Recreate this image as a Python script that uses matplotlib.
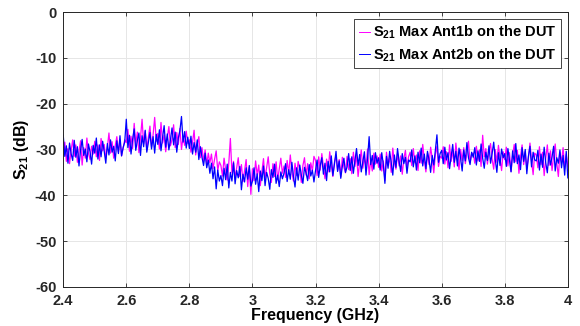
import numpy as np
import matplotlib
matplotlib.use('Agg')
import matplotlib.pyplot as plt

# frequency grid 2.4 .. 4.0 GHz, step 5 MHz
freq = np.linspace(2.4, 4.0, 321)

# S21 Max Ant1b on the DUT (dB)
s21_ant1b = [
    -31.2, -28.4, -32.6, -29.8, -33.1, -30.2, -27.9, -31.5, -29.0, -32.8, -30.4, -28.1, -33.4, -29.6, -31.9, -27.5, -30.8, -32.2, -29.3, -31.0,
    -28.2, -31.6, -29.0, -32.4, -27.6, -30.3, -28.9, -32.0, -29.5, -26.4, -30.8, -28.3, -31.9, -29.1, -27.2, -30.6, -28.0, -31.4, -29.7, -27.9,
    -28.5, -25.6, -30.4, -27.1, -29.8, -24.3, -28.9, -26.2, -30.7, -27.5, -23.4, -28.8, -26.0, -30.1, -27.3, -24.9, -29.4, -26.8, -23.0, -28.2,
    -26.5, -29.9, -24.1, -28.6, -26.9, -30.5, -27.4, -25.0, -29.2, -27.8, -24.6, -29.6, -26.3, -28.9, -25.4, -30.0, -27.2, -29.1, -26.0, -28.7,
    -27.9, -30.6, -28.4, -25.8, -31.2, -29.0, -27.2, -31.8, -29.6, -32.5, -30.1, -33.4, -30.8, -32.9, -31.0, -34.2, -32.1, -30.3, -34.6, -32.7,
    -33.5, -35.8, -31.9, -34.4, -36.7, -33.0, -27.6, -35.1, -32.6, -36.2, -34.0, -31.8, -35.9, -33.3, -37.0, -34.6, -32.2, -38.1, -33.9, -39.8,
    -34.2, -36.8, -32.5, -35.6, -33.4, -37.9, -34.8, -32.0, -36.3, -33.9, -31.6, -35.4, -37.2, -33.1, -35.9, -32.7, -36.6, -34.3, -31.9, -35.2,
    -33.6, -36.1, -32.4, -35.3, -31.2, -34.8, -36.9, -33.0, -35.7, -32.6, -34.4, -37.2, -33.5, -31.8, -35.6, -33.1, -36.4, -32.9, -34.7, -31.5,
    -32.4, -35.7, -31.6, -34.5, -30.9, -33.8, -36.4, -32.1, -34.9, -30.5, -33.5, -35.9, -32.8, -31.3, -34.6, -32.2, -36.0, -31.7, -33.9, -35.1,
    -31.5, -34.4, -32.0, -35.3, -30.6, -33.7, -31.2, -35.9, -32.8, -30.1, -34.1, -31.7, -33.9, -29.9, -35.5, -32.3, -34.7, -30.8, -33.2, -31.4,
    -33.9, -31.0, -34.7, -32.5, -36.8, -30.6, -33.4, -31.8, -35.0, -29.7, -32.9, -34.3, -30.9, -33.6, -31.4, -35.4, -32.1, -30.2, -34.0, -31.6,
    -30.6, -33.5, -29.8, -32.9, -31.2, -34.6, -30.3, -33.0, -28.9, -32.4, -34.9, -30.8, -33.3, -29.5, -32.0, -35.1, -31.1, -29.3, -33.7, -31.5,
    -31.9, -29.4, -33.2, -30.5, -34.0, -29.0, -32.6, -30.2, -33.8, -28.6, -31.7, -34.4, -30.0, -32.4, -29.6, -33.1, -30.8, -28.2, -32.9, -31.0,
    -30.8, -33.0, -29.3, -32.5, -30.1, -33.7, -26.9, -31.6, -29.8, -33.2, -30.4, -28.7, -32.1, -34.3, -30.0, -32.8, -29.1, -31.9, -34.6, -30.5,
    -32.2, -29.5, -33.6, -30.7, -34.8, -31.3, -28.9, -32.7, -30.2, -35.2, -31.6, -29.0, -33.3, -30.5, -34.1, -31.9, -28.6, -32.5, -35.5, -30.8,
    -31.2, -34.0, -29.4, -33.3, -30.6, -35.7, -31.9, -29.0, -33.5, -30.3, -34.6, -31.4, -28.8, -33.0, -35.9, -30.7, -32.8, -29.6, -34.2, -31.1,
    -33.8,
]

# S21 Max Ant2b on the DUT (dB)
s21_ant2b = [
    -26.8, -31.5, -29.2, -33.0, -28.6, -30.9, -32.4, -28.0, -31.7, -29.4, -33.6, -30.1, -27.8, -31.3, -29.9, -32.7, -28.8, -30.5, -33.2, -29.1,
    -30.8, -27.5, -32.1, -29.0, -31.6, -28.2, -30.4, -33.0, -28.7, -31.2, -27.9, -30.6, -29.3, -32.5, -28.1, -30.9, -27.0, -31.4, -29.6, -28.4,
    -23.4, -29.6, -26.9, -31.0, -27.8, -25.5, -30.2, -28.1, -26.4, -31.3, -27.0, -29.4, -25.8, -30.6, -28.5, -26.3, -29.9, -27.2, -30.8, -26.7,
    -28.9, -25.7, -30.3, -27.4, -24.8, -29.5, -26.6, -30.1, -27.9, -25.3, -29.0, -26.2, -30.6, -27.5, -25.9, -22.8, -28.4, -26.1, -29.7, -27.3,
    -29.8, -27.1, -31.0, -28.5, -30.6, -27.9, -32.2, -29.4, -31.7, -33.5, -30.8, -34.0, -32.3, -35.2, -33.0, -36.4, -33.8, -38.6, -34.5, -36.9,
    -35.7, -37.9, -34.1, -36.6, -33.2, -38.4, -35.0, -36.9, -32.9, -37.5, -34.6, -36.2, -33.7, -38.8, -35.4, -37.1, -34.0, -36.5, -33.5, -38.0,
    -36.9, -34.0, -37.6, -35.3, -39.2, -34.7, -36.8, -33.6, -37.9, -35.0, -36.3, -38.7, -34.4, -36.1, -33.2, -37.4, -35.6, -38.1, -34.9, -36.4,
    -35.2, -33.1, -37.0, -34.4, -36.5, -32.8, -35.9, -38.2, -34.0, -36.7, -33.4, -35.6, -37.4, -33.9, -35.1, -36.8, -33.3, -35.8, -34.5, -37.1,
    -34.6, -32.3, -36.1, -33.5, -31.8, -35.4, -33.0, -36.8, -32.6, -34.9, -31.4, -35.7, -33.2, -30.4, -34.8, -32.5, -36.3, -33.7, -31.9, -35.0,
    -33.8, -30.9, -34.6, -31.6, -35.2, -32.4, -29.8, -33.5, -31.1, -34.9, -32.7, -30.5, -35.6, -32.0, -27.2, -33.3, -31.3, -34.3, -30.7, -33.0,
    -31.8, -34.5, -30.7, -33.3, -37.4, -31.5, -34.1, -30.4, -32.8, -35.6, -31.2, -33.9, -29.8, -32.6, -34.8, -30.9, -33.1, -31.7, -35.2, -32.3,
    -32.7, -30.1, -33.8, -31.4, -34.5, -30.6, -32.9, -29.7, -33.6, -31.0, -34.2, -30.4, -32.3, -35.0, -31.3, -33.4, -30.0, -26.8, -32.8, -30.9,
    -30.2, -33.1, -29.5, -32.3, -30.7, -34.2, -31.5, -28.9, -32.8, -30.4, -33.6, -29.7, -31.9, -34.7, -30.1, -32.5, -28.5, -31.8, -33.3, -30.6,
    -31.7, -29.6, -33.4, -30.3, -32.6, -28.8, -31.9, -34.1, -30.6, -32.4, -29.2, -33.0, -30.9, -28.4, -32.2, -35.0, -30.7, -33.5, -29.9, -31.8,
    -30.9, -33.7, -29.8, -32.4, -34.9, -30.3, -32.9, -28.7, -33.1, -31.2, -34.4, -29.6, -32.6, -30.0, -35.3, -31.5, -29.3, -33.8, -30.6, -32.3,
    -32.5, -30.2, -34.5, -31.0, -33.9, -29.5, -32.9, -35.1, -30.8, -33.4, -31.6, -29.3, -34.7, -31.8, -33.0, -30.1, -34.0, -31.3, -35.6, -30.4,
    -36.2,
]

labels = [r'S$_{21}$ Max Ant1b on the DUT', r'S$_{21}$ Max Ant2b on the DUT']

plt.rcParams['font.family'] = 'Liberation Sans'
plt.rcParams['font.weight'] = 'bold'
plt.rcParams['axes.unicode_minus'] = False
plt.rcParams['mathtext.fontset'] = 'custom'
plt.rcParams['mathtext.rm'] = 'Liberation Sans:bold'
plt.rcParams['mathtext.bf'] = 'Liberation Sans:bold'
plt.rcParams['mathtext.default'] = 'bf'

fig = plt.figure(figsize=(5.8, 3.26), dpi=100)
ax = fig.add_axes([0.109, 0.120, 0.870, 0.843])

ax.plot(freq, s21_ant1b, color='#FF00FF', linewidth=0.9, label=labels[0])
ax.plot(freq, s21_ant2b, color='#0000FF', linewidth=0.9, label=labels[1])

ax.set_xlim(2.4, 4.0)
ax.set_ylim(-60, 0)
ax.set_xticks(np.arange(2.4, 4.01, 0.2))
ax.set_xticklabels(['2.4', '2.6', '2.8', '3', '3.2', '3.4', '3.6', '3.8', '4'])
ax.set_yticks(np.arange(-60, 1, 10))

ax.grid(True, color='#e6e6e6', linewidth=0.7)
ax.set_axisbelow(True)
ax.tick_params(direction='in', length=3, width=0.6, top=True, right=True,
               labelsize=10.5, colors='#262626', pad=5)
for s in ax.spines.values():
    s.set_color('#262626')
    s.set_linewidth(0.7)

ax.set_xlabel('Frequency (GHz)', fontsize=11.5, fontweight='bold', labelpad=0)
ax.set_ylabel(r'S$_{21}$ (dB)', fontsize=11.5, fontweight='bold', labelpad=3)

leg = ax.legend(loc='upper right', fontsize=10.5, handlelength=0.8, handletextpad=0.15,
                borderpad=0.3, labelspacing=0.35, fancybox=False, framealpha=1,
                borderaxespad=0.5)
leg.get_frame().set_edgecolor('#262626')
leg.get_frame().set_linewidth(0.6)
for h in leg.get_lines():
    h.set_linewidth(0.7)

plt.savefig('out.png', dpi=100)
